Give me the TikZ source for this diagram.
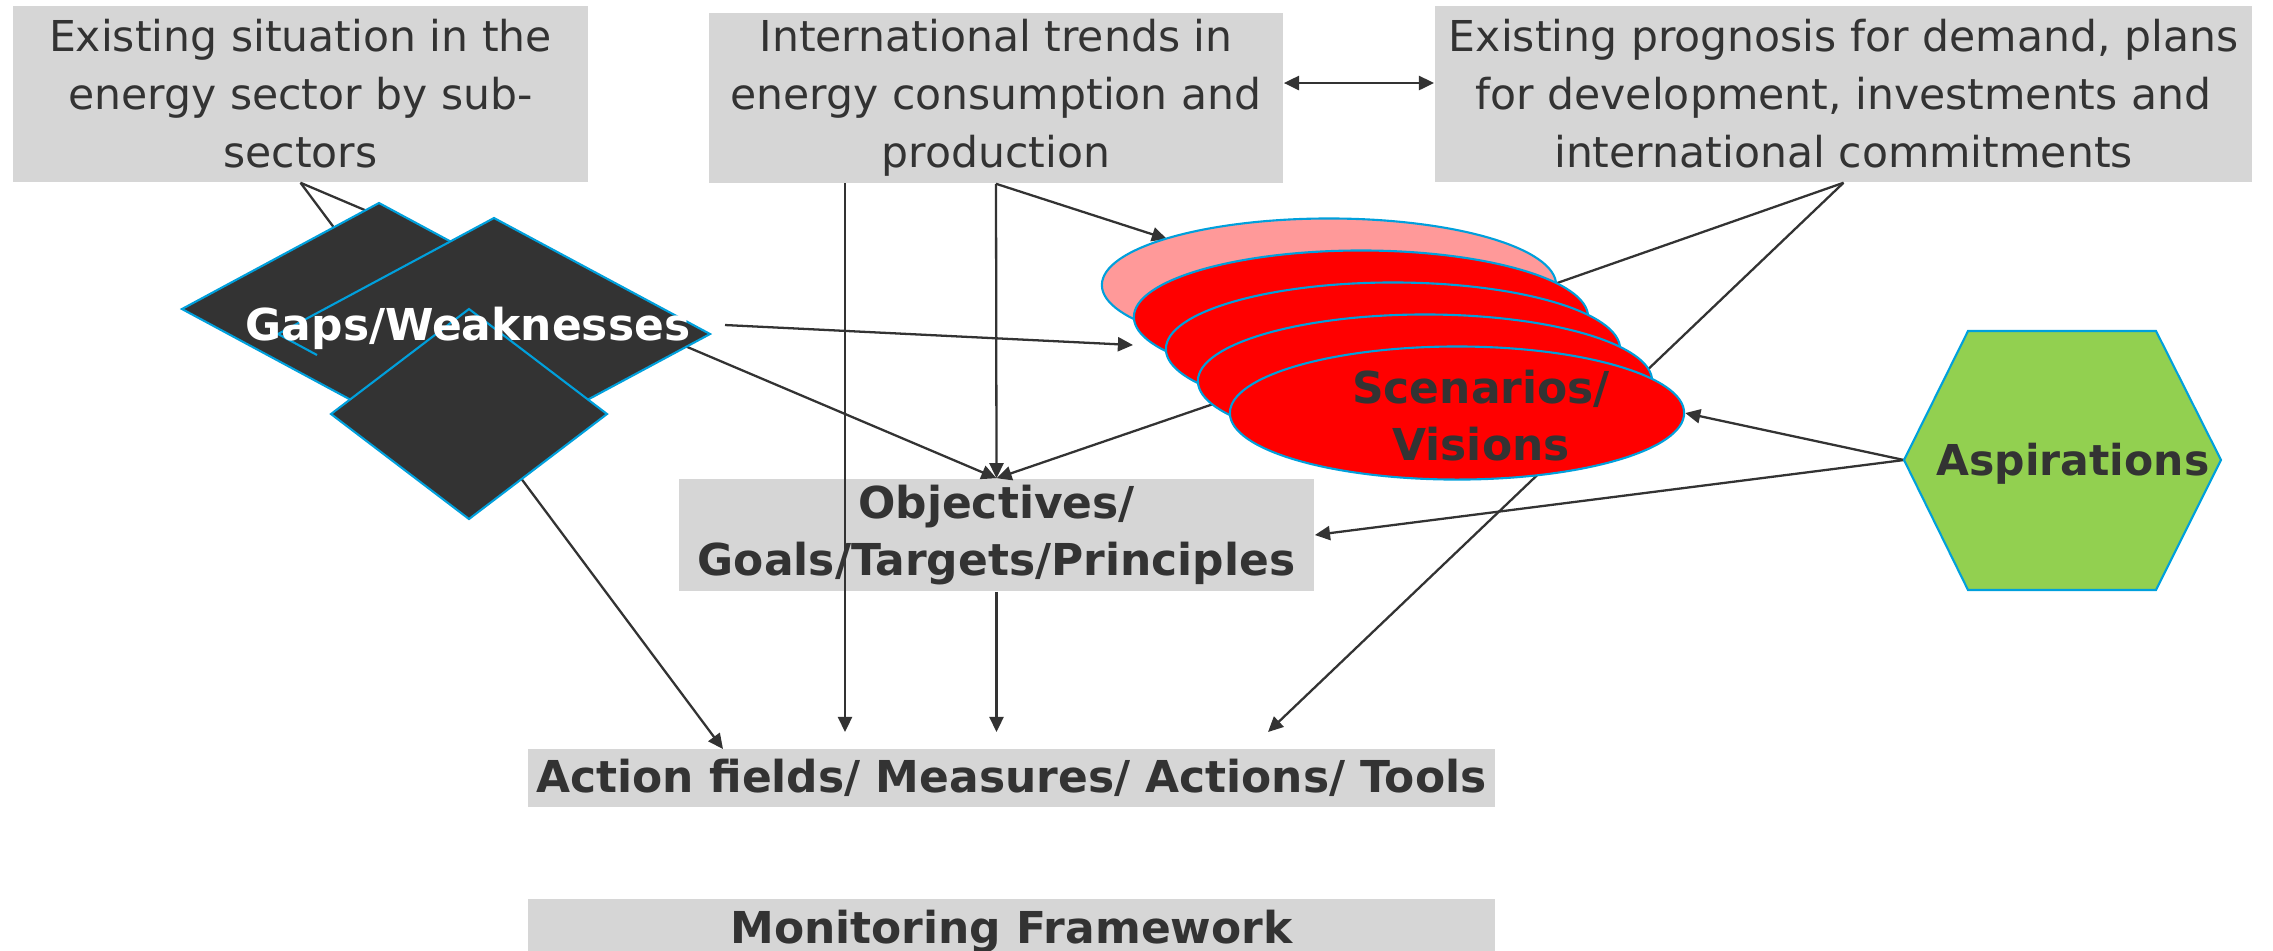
\documentclass[tikz,border=0pt]{standalone}
\usepackage{fontspec}
\setmainfont{DejaVu Sans}
\usetikzlibrary{arrows.meta,shapes.geometric}
\pgfdeclarelayer{front}
\pgfsetlayers{main,front}
\definecolor{boxgray}{HTML}{D6D6D6}
\definecolor{txtgray}{HTML}{333333}
\definecolor{edgeblue}{HTML}{00A0DC}
\definecolor{scpink}{HTML}{FF9999}
\definecolor{aspgreen}{HTML}{92D050}
\tikzset{
  infobox/.style={fill=boxgray,text=txtgray,inner sep=0pt,align=center,
    font=\fontsize{12.1}{16.5}\selectfont},
  keybox/.style={fill=boxgray,text=txtgray,inner sep=0pt,align=center,
    font=\bfseries\fontsize{12.5}{16.2}\selectfont},
  keytext/.style={text=txtgray,inner sep=0pt,align=center,
    font=\bfseries\fontsize{12.5}{16.2}\selectfont},
  arr/.style={draw=txtgray,line width=0.65pt,-{Triangle[length=4.3pt,width=4pt]}},
  gapshape/.style={fill=txtgray,draw=edgeblue,line width=0.6pt},
  scen/.style={ellipse,fill=red,draw=edgeblue,line width=0.6pt,
    minimum width=4.54cm,minimum height=1.33cm,inner sep=0pt},
}

\begin{document}
\begin{tikzpicture}[x=0.01cm,y=-0.01cm]
\useasboundingbox (0,0) rectangle (2273,950);
% top row
\node[infobox,minimum width=5.75cm,minimum height=1.76cm] (sit) at (300.5,94)
  {Existing situation in the\\energy sector by sub-\\sectors};
\node[infobox,minimum width=5.74cm,minimum height=1.70cm] (trend) at (996,98)
  {International trends in\\energy consumption and\\production};
\node[infobox,minimum width=8.17cm,minimum height=1.76cm] (prog) at (1843.5,94)
  {Existing prognosis for demand, plans\\for development, investments and\\international commitments};
% middle and bottom
\node[keybox,minimum width=6.35cm,minimum height=1.12cm] (obj) at (996.5,535)
  {Objectives/\\Goals/Targets/Principles};
\node[keybox,minimum width=9.67cm,minimum height=0.58cm] (act) at (1011.5,778)
  {Action fields/ Measures/ Actions/ Tools};
\node[keybox,minimum width=9.67cm,minimum height=0.66cm] (mon) at (1011.5,932)
  {Monitoring Framework};

\begin{pgfonlayer}{front}
% gaps
\filldraw[gapshape] (379,203) -- (576,309) -- (379,415) -- (182,309) -- cycle;
\fill[txtgray] (494,218) -- (710,334) -- (494,450) -- (278,334) -- cycle;
\draw[edgeblue,line width=0.6pt] (317,355) -- (278,334) -- (494,218) -- (710,334) -- (494,450);
\filldraw[gapshape] (469,309) -- (607,414) -- (469,519) -- (331,414) -- cycle;
\node[keytext,text=white] (gaps) at (468,328) {Gaps/Weaknesses};
% scenarios
\node[scen,fill=scpink] (sc1) at (1329,285) {};
\foreach \k in {2,...,5}
  \node[scen] (sc\k) at ({1329+32*(\k-1)},{285+32*(\k-1)}) {};
\node[keytext] (scen) at (1481,416) {Scenarios/\\Visions};
% aspirations
\filldraw[fill=aspgreen,draw=edgeblue,line width=0.6pt]
  (1904,460) -- (1968,331) -- (2156,331) -- (2221,460) -- (2156,590) -- (1968,590) -- cycle;
\node[keytext,font=\bfseries\fontsize{12.1}{16}\selectfont] (asp) at (2073,464) {Aspirations};
\end{pgfonlayer}

\coordinate (aspW) at (1904,460);
\coordinate (gapsE) at (725,325);
\coordinate (scL) at (1133,345);
\coordinate (trendL) at (845,183);
\coordinate (sc1NW) at (1167,239);
\coordinate (sc1R) at (1480,310);
\coordinate (actA) at (723,749);
\coordinate (actB) at (845,732);
\coordinate (actC) at (996.5,732);
\coordinate (actD) at (1268,732);
\coordinate (scMid) at (1400,340);

\draw[arr] (sit.south) -- (obj.north);
\draw[arr] (sit.south) -- (actA);
\draw[arr] (gapsE) -- (scL);
\draw[arr] (trendL) -- (actB);
\draw[arr] (trend.south) -- (obj.north);
\draw[arr] (trend.south) -- (sc1NW);
\draw[arr,{Triangle[length=4.3pt,width=4pt]}-{Triangle[length=4.3pt,width=4pt]}]
  (trend.east |- 0,83) -- (prog.west |- 0,83);
\draw[arr] (prog.south) -- (sc1R);
\draw[arr] (prog.south) -- (actD);
\draw[arr] (scMid) -- (obj.north);
\draw[arr] (aspW) -- (sc5.east);
\draw[arr] (aspW) -- (obj.east);
\draw[arr] (obj.south) -- (actC);
\end{tikzpicture}
\end{document}
